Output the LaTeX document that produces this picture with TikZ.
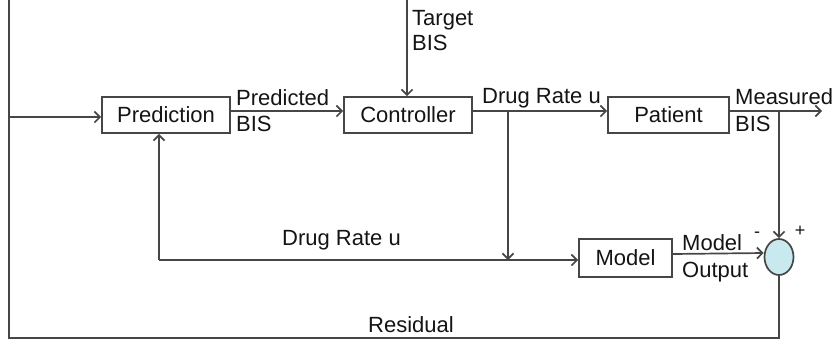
\documentclass[tikz,border=0pt]{standalone}
\usepackage{fontspec}
\setmainfont{Liberation Sans}
\usetikzlibrary{arrows.meta,shapes.geometric}
\definecolor{linec}{RGB}{70,70,70}
\definecolor{txtc}{RGB}{20,20,20}
\definecolor{sumfill}{RGB}{200,234,238}
\begin{document}
\begin{tikzpicture}[x=1pt,y=-1pt,
  font=\fontsize{22}{24}\selectfont,
  blk/.style={draw=linec, line width=1.7pt, inner sep=0pt, text=txtc},
  conn/.style={draw=linec, line width=1.7pt},
  arr/.style={conn, -{Straight Barb[length=5.5pt,width=11pt]}},
  lbl/.style={text=txtc, inner sep=0pt, anchor=base west},
  sgn/.style={text=txtc, inner sep=0pt, font=\fontsize{18}{20}\selectfont}]
\useasboundingbox (0,0) rectangle (836,346);
% blocks
\node[blk, minimum width=128pt, minimum height=36pt] (pred) at (166,115) {Prediction};
\node[blk, minimum width=128pt, minimum height=36pt] (ctrl) at (408,115) {Controller};
\node[blk, minimum width=121pt, minimum height=36pt] (pat) at (668.5,115) {Patient};
\node[blk, minimum width=93pt, minimum height=38pt] (model) at (625.5,258) {Model};
\node[draw=linec, line width=1.7pt, fill=sumfill, ellipse, inner sep=0pt,
      minimum width=29pt, minimum height=36pt] (sum) at (779,257) {};
% coordinates
\coordinate (tl) at (9,0);
\coordinate (bl) at (9,338);
\coordinate (fb) at (9,117);
\coordinate (tgt) at (407,0);
\coordinate (br) at (508,111);
\coordinate (brl) at (508,260);
\coordinate (lo) at (159,260);
\coordinate (mo) at (822,111);
\coordinate (mb) at (779,111);
% connectors
\draw[conn] (tl) -- (bl) -| (sum.south);
\draw[arr] (fb) -- (fb -| pred.west);
\draw[arr] (tgt) -- (tgt |- ctrl.north);
\draw[arr] ([yshift=4pt]pred.east) -- ([yshift=4pt]ctrl.west);
\draw[arr] ([yshift=4pt]ctrl.east) -- ([yshift=4pt]pat.west);
\draw[arr] (br) -- (brl);
\draw[arr] (lo) -- (lo |- pred.south);
\draw[arr] (lo) -- (lo -| model.west);
\draw[arr] ([yshift=4pt]pat.east) -- (mo);
\draw[arr] (mb) -- (mb |- sum.north);
\draw[arr] ([yshift=4pt]model.east) -- ([yshift=4pt]sum.west);
% labels
\node[lbl] (l1) at (236,105) {Predicted};
\node[lbl] (l2) at (236,131) {BIS};
\node[lbl] (l3) at (482,103) {Drug Rate u};
\node[lbl] (l4) at (735,104) {Measured};
\node[lbl] (l5) at (735,131) {BIS};
\node[lbl] (l6) at (412,25) {Target};
\node[lbl] (l7) at (412,50) {BIS};
\node[lbl] (l8) at (682,250) {Model};
\node[lbl] (l9) at (682,277) {Output};
\node[lbl] (l10) at (282,245) {Drug Rate u};
\node[lbl] (l11) at (368,332) {Residual};
\node[sgn] (minus) at (757,235) {-};
\node[sgn] (plus) at (800,231) {+};
\end{tikzpicture}
\end{document}
